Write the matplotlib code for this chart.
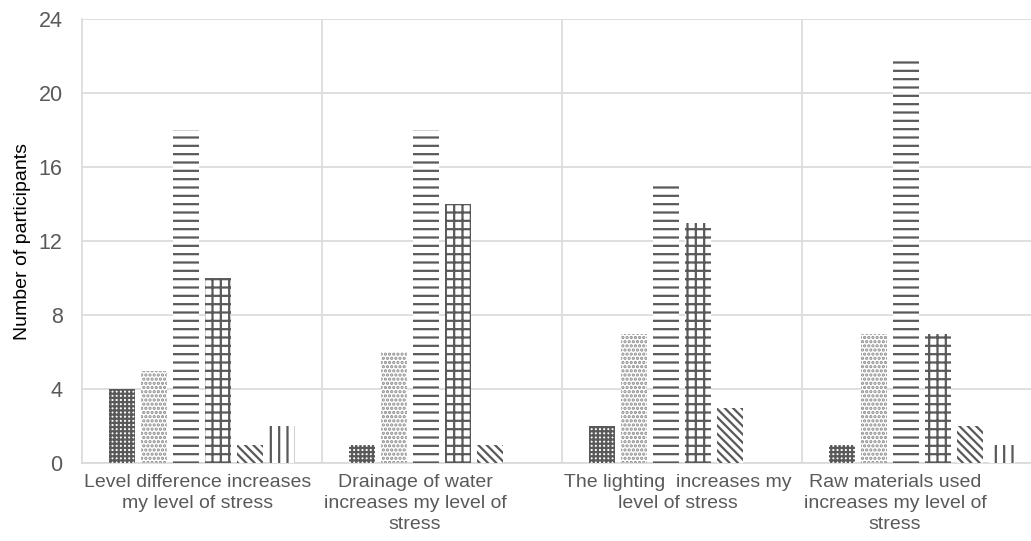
import matplotlib
matplotlib.use('Agg')
import matplotlib.pyplot as plt
import matplotlib.transforms as mtransforms
import numpy as np

plt.rcParams['font.family'] = ['Liberation Sans', 'DejaVu Sans']
plt.rcParams['hatch.linewidth'] = 1.6

# Data
categories = [
    'Level difference increases\nmy level of stress',
    'Drainage of water\nincreases my level of\nstress',
    'The lighting  increases my\nlevel of stress',
    'Raw materials used\nincreases my level of\nstress',
]
series_1 = [4, 1, 2, 1]
series_2 = [5, 6, 7, 7]
series_3 = [18, 18, 15, 22]
series_4 = [10, 14, 13, 7]
series_5 = [1, 1, 3, 2]
series_6 = [2, 0, 0, 1]

all_series = [series_1, series_2, series_3, series_4, series_5, series_6]
hatches = ['++++', '....', '--', '++', '\\\\\\\\', '||']
hatch_colors = ['#595959', '#8c8c8c', '#595959', '#595959', '#595959', '#595959']
# horizontal nudge (pixels) of each category label, as in the original layout
label_shift_px = [-4, -27, -4, -27]

fig = plt.figure(figsize=(10.31, 5.41), dpi=100)
ax = fig.add_axes([82 / 1031, (541 - 463) / 541, 960 / 1031, (463 - 19) / 541])

x = np.arange(len(categories))
step = 32 / 240
width = 26 / 240
for i, (vals, h, c) in enumerate(zip(all_series, hatches, hatch_colors)):
    offs = (i - 2.5) * step
    ax.bar(x + offs, vals, width, color='white', edgecolor=c,
           linewidth=0, hatch=h, zorder=3)

ax.set_xlim(-0.5, 3.5)
ax.set_ylim(0, 24)
ax.set_yticks(range(0, 25, 4))
ax.set_xticks(x)
ax.set_xticklabels(categories, fontsize=14, color='#595959', linespacing=1.3)
ax.set_xticks([0.5, 1.5, 2.5], minor=True)
ax.tick_params(axis='x', which='both', length=0, pad=8)
ax.tick_params(axis='y', length=0, labelsize=15.5, labelcolor='#595959', pad=14)

for lab, dx in zip(ax.get_xticklabels(), label_shift_px):
    lab.set_transform(lab.get_transform() +
                      mtransforms.ScaledTranslation(dx / 100, 0, fig.dpi_scale_trans))

ax.grid(axis='y', color='#d9d9d9', linewidth=1.2, zorder=0)
ax.grid(axis='x', which='minor', color='#d9d9d9', linewidth=1.2, zorder=0)

for s in ['top', 'right']:
    ax.spines[s].set_visible(False)
ax.spines['left'].set_color('#d9d9d9')
ax.spines['left'].set_linewidth(1.2)
ax.spines['bottom'].set_color('#d9d9d9')
ax.spines['bottom'].set_linewidth(1.2)

ax.set_ylabel('Number of participants', fontsize=14, color='black', labelpad=5)

fig.savefig('out.png', dpi=100)
